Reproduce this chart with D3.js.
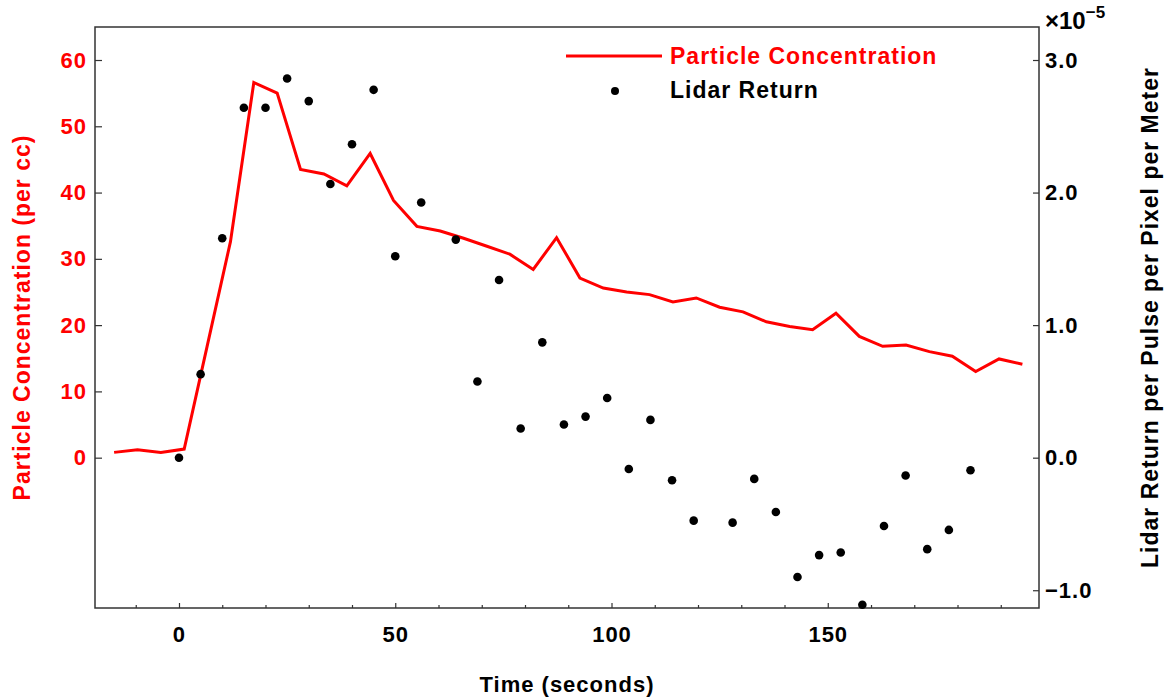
<!DOCTYPE html>
<html>
<head>
<meta charset="utf-8">
<script src="https://cdn.jsdelivr.net/npm/d3@7"></script>
<style>
  body { margin: 0; background: #fff; }
  text { font-family: "Liberation Sans", Arial, sans-serif; font-weight: bold; letter-spacing: 1px; }
</style>
</head>
<body>
<svg id="chart" width="1166" height="698"></svg>
<script>
  // particle counter, per cc
  const conc_time = [-15, -9.6, -4.2, 1.2, 6.5, 11.9, 17.3, 22.7, 28.1, 33.5, 38.8, 44.2, 49.6, 55.0,
    60.4, 65.8, 71.2, 76.5, 81.9, 87.3, 92.7, 98.1, 103.5, 108.8, 114.2, 119.6, 125.0, 130.4,
    135.8, 141.2, 146.5, 151.9, 157.3, 162.7, 168.1, 173.5, 178.8, 184.2, 189.6, 195.0]
  const conc_values = [0.8, 1.2, 0.8, 1.3, 16.8, 32.6, 56.6, 55.0, 43.5, 42.8, 41.0, 45.9, 38.8, 34.9,
    34.2, 33.1, 31.9, 30.7, 28.4, 33.2, 27.1, 25.6, 25.0, 24.6, 23.5, 24.1, 22.7, 22.0,
    20.5, 19.8, 19.3, 21.8, 18.3, 16.8, 17.0, 16.0, 15.3, 13.0, 14.9, 14.1]

  // lidar return, in units of 1e-5
  const lidar_time = [0, 5, 10, 15, 20, 25, 30, 35, 40, 45, 50, 56, 64, 69, 74, 79, 84, 89, 94, 99,
    104, 109, 114, 119, 128, 133, 138, 143, 148, 153, 158, 163, 168, 173, 178, 183]
  const lidar_values = [0.0, 0.63, 1.655, 2.64, 2.64, 2.86, 2.69, 2.065, 2.365, 2.775, 1.52, 1.925,
    1.645, 0.575, 1.34, 0.22, 0.87, 0.25, 0.31, 0.45, -0.085, 0.285, -0.17, -0.475, -0.49, -0.16,
    -0.41, -0.9, -0.735, -0.715, -1.11, -0.515, -0.135, -0.69, -0.545, -0.095]

  const x_major = [0, 50, 100, 150]
  const x_minor = [-10, 10, 20, 30, 40, 60, 70, 80, 90, 110, 120, 130, 140, 160, 170, 180, 190]
  const left_ticks = [0, 10, 20, 30, 40, 50, 60]
  const right_ticks = [-1, 0, 1, 2, 3]

  const margin = {top: 27, right: 127, bottom: 90, left: 95}
  const W = 1166, H = 698

  function make_scales() {
    return {
      x: d3.scaleLinear().domain([-19.42, 198.84]).range([margin.left, W - margin.right]),
      yl: d3.scaleLinear().domain([-22.68, 64.98]).range([H - margin.bottom, margin.top]),
      yr: d3.scaleLinear().domain([-1.134, 3.249]).range([H - margin.bottom, margin.top])
    }
  }

  function style_axis(g, color, size) {
    g.select(".domain").remove()
    g.selectAll("line").attr("stroke", "#333").attr("stroke-width", 1.2)
    g.selectAll("text")
      .attr("fill", color)
      .style("font-size", size + "px")
      .style("font-family", '"Liberation Sans", Arial, sans-serif')
  }

  function draw_axes(svg, s) {
    let bottom = H - margin.bottom
    svg.append("g")
      .attr("transform", `translate(0, ${bottom})`)
      .call(d3.axisBottom(s.x).tickValues(x_minor).tickSize(-3).tickFormat(""))
      .call(g => style_axis(g, "#000", 22))
    svg.append("g")
      .attr("transform", `translate(0, ${bottom})`)
      .call(d3.axisBottom(s.x).tickValues(x_major).tickSize(-5).tickPadding(18))
      .call(g => style_axis(g, "#000", 22))

    svg.append("g")
      .attr("transform", `translate(${margin.left}, 0)`)
      .call(d3.axisLeft(s.yl).tickValues(left_ticks).tickSize(-7).tickPadding(8))
      .call(g => style_axis(g, "#f00", 22))

    svg.append("g")
      .attr("transform", `translate(${W - margin.right}, 0)`)
      .call(d3.axisRight(s.yr).tickValues(right_ticks).tickSize(-6).tickPadding(6)
        .tickFormat(d3.format(".1f")))
      .call(g => style_axis(g, "#000", 22))

    svg.append("rect")
      .attr("x", margin.left).attr("y", margin.top)
      .attr("width", W - margin.left - margin.right)
      .attr("height", H - margin.top - margin.bottom)
      .attr("fill", "none").attr("stroke", "#333").attr("stroke-width", 1.5)

    // exponent for the right axis
    let ex = svg.append("text").attr("x", 1045).attr("y", 29)
      .style("font-size", "24px").style("letter-spacing", "0px").attr("fill", "#000")
    ex.append("tspan").text("×10")
    ex.append("tspan").attr("dy", -11).style("font-size", "17px").text("−5")

    // axis titles
    svg.append("text")
      .attr("transform", `translate(30, ${(margin.top + bottom) / 2}) rotate(-90)`)
      .attr("text-anchor", "middle").attr("fill", "#f00").style("font-size", "23px")
      .text("Particle Concentration (per cc)")
    svg.append("text")
      .attr("transform", `translate(1158, ${(margin.top + bottom) / 2}) rotate(-90)`)
      .attr("text-anchor", "middle").attr("fill", "#000").style("font-size", "23px")
      .text("Lidar Return per Pulse per Pixel per Meter")
    svg.append("text")
      .attr("x", (margin.left + W - margin.right) / 2).attr("y", 692)
      .attr("text-anchor", "middle").attr("fill", "#000").style("font-size", "22px")
      .text("Time (seconds)")
  }

  function draw_data(svg, s) {
    let conc = conc_time.map((t, i) => ({t: t, v: conc_values[i]}))
    let lidar = lidar_time.map((t, i) => ({t: t, v: lidar_values[i]}))

    let path_generator = d3.line()
      .x(d => s.x(d.t))
      .y(d => s.yl(d.v))

    svg.append("path")
      .datum(conc)
      .attr("d", path_generator)
      .attr("fill", "none").attr("stroke", "#f00").attr("stroke-width", 3)

    svg.append("g").selectAll("circle")
      .data(lidar).enter()
      .append("circle")
      .attr("cx", d => s.x(d.t))
      .attr("cy", d => s.yr(d.v))
      .attr("r", 4.3)
      .attr("fill", "#000")
  }

  function draw_legend(svg) {
    svg.append("line")
      .attr("x1", 566).attr("x2", 662).attr("y1", 56).attr("y2", 56)
      .attr("stroke", "#f00").attr("stroke-width", 3)
    svg.append("text").attr("x", 670).attr("y", 64)
      .attr("fill", "#f00").style("font-size", "23px").text("Particle Concentration")
    svg.append("circle").attr("cx", 615).attr("cy", 91).attr("r", 4).attr("fill", "#000")
    svg.append("text").attr("x", 670).attr("y", 98)
      .attr("fill", "#000").style("font-size", "23px").text("Lidar Return")
  }

  function visualize() {
    let svg = d3.select("#chart")
    svg.append("rect").attr("width", W).attr("height", H).attr("fill", "#fff")
    let s = make_scales()
    draw_axes(svg, s)
    draw_data(svg, s)
    draw_legend(svg)
  }

  visualize()
</script>
</body>
</html>
